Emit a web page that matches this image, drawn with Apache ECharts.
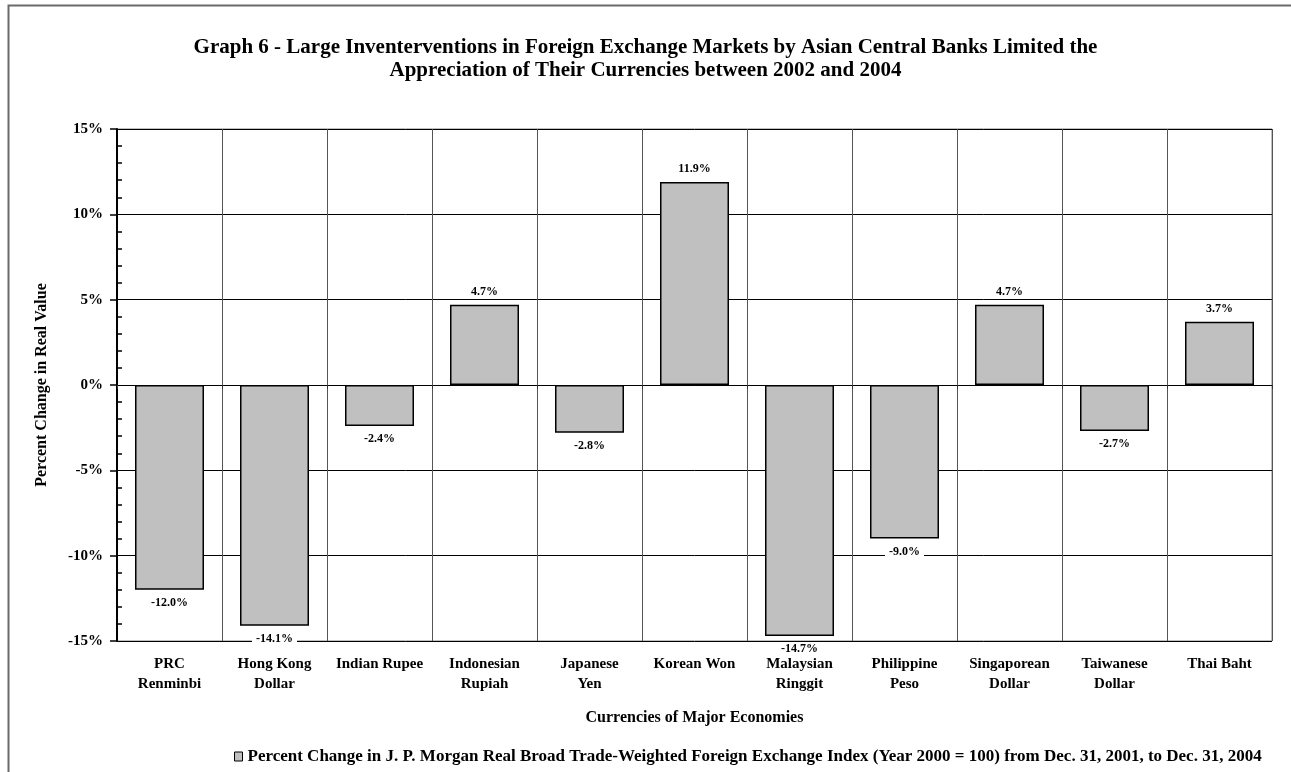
<!DOCTYPE html>
<html>
<head>
<meta charset="utf-8">
<title>Graph 6</title>
<script src="https://cdn.jsdelivr.net/npm/echarts@6/dist/echarts.min.js"></script>
<style>
  html, body { margin: 0; padding: 0; background: #fff; }
  #chart { width: 1291px; height: 772px; }
</style>
</head>
<body>
<div id="chart"></div>
<script>
// Currencies along the horizontal axis
const currencies = [
  'PRC\nRenminbi', 'Hong Kong\nDollar', 'Indian Rupee', 'Indonesian\nRupiah',
  'Japanese\nYen', 'Korean Won', 'Malaysian\nRinggit', 'Philippine\nPeso',
  'Singaporean\nDollar', 'Taiwanese\nDollar', 'Thai Baht'
];

// Percent change in real value, Dec. 31, 2001 to Dec. 31, 2004
const percentChange = [-12.0, -14.1, -2.4, 4.7, -2.8, 11.9, -14.7, -9.0, 4.7, -2.7, 3.7];

// Value axis range and step (percent)
const yMin = -15;
const yMax = 15;
const yStep = 5;

const titleText = 'Graph 6 - Large Inventerventions in Foreign Exchange Markets by Asian Central Banks Limited the\nAppreciation of Their Currencies between 2002 and 2004';
const seriesName = 'Percent Change in J. P. Morgan Real Broad Trade-Weighted Foreign Exchange Index (Year 2000 = 100) from Dec. 31, 2001, to Dec. 31, 2004';

const serif = '"Liberation Serif", "Times New Roman", serif';

const chart = echarts.init(document.getElementById('chart'), null, { renderer: 'canvas' });

const barData = percentChange.map(v => ({
  value: v,
  label: { position: v < 0 ? 'bottom' : 'top' }
}));

chart.setOption({
  backgroundColor: '#fff',
  animation: false,
  graphic: [{
    type: 'rect',
    left: 6, top: 3,
    shape: { width: 1320, height: 800 },
    style: { fill: 'none', stroke: '#6a6a6a', lineWidth: 2 },
    z: -10, silent: true
  }],
  title: {
    text: titleText,
    left: 'center',
    top: 31,
    textStyle: {
      fontFamily: serif, fontWeight: 'bold', fontSize: 21,
      lineHeight: 23, color: '#000'
    }
  },
  legend: {
    left: 229,
    top: 743,
    icon: 'rect',
    itemWidth: 8,
    itemHeight: 9,
    itemGap: 4,
    textStyle: { fontFamily: serif, fontWeight: 'bold', fontSize: 17, color: '#000' },
    itemStyle: { borderColor: '#000', borderWidth: 1 }
  },
  grid: {
    left: 117, right: 19, top: 129, bottom: 131,
    show: true, borderColor: '#808080', borderWidth: 1,
    backgroundColor: 'transparent'
  },
  xAxis: [{
    type: 'category',
    data: currencies,
    position: 'bottom',
    axisLine: { show: false, onZero: false },
    axisTick: { show: false },
    splitLine: { show: true, interval: 0, lineStyle: { color: '#555', width: 1 } },
    axisLabel: {
      interval: 0, margin: 13,
      fontFamily: serif, fontWeight: 'bold', fontSize: 15,
      lineHeight: 20, color: '#000'
    },
    name: 'Currencies of Major Economies',
    nameLocation: 'middle',
    nameGap: 69,
    nameTextStyle: { fontFamily: serif, fontWeight: 'bold', fontSize: 16, color: '#000' }
  }, {
    // short boundary marks along the zero line
    type: 'category',
    data: currencies,
    position: 'bottom',
    axisLine: { show: true, onZero: true, lineStyle: { color: '#000', width: 1 } },
    axisTick: { show: true, inside: false, length: 4, interval: 0, lineStyle: { color: '#333' } },
    axisLabel: { show: false },
    splitLine: { show: false }
  }],
  yAxis: [{
    type: 'value',
    min: yMin, max: yMax, interval: yStep,
    axisLine: { show: true, lineStyle: { color: '#000', width: 2 } },
    axisTick: { show: true, length: 7, lineStyle: { color: '#000', width: 1.5 } },
    axisLabel: {
      margin: 14,
      formatter: '{value}%',
      fontFamily: serif, fontWeight: 'bold', fontSize: 15, color: '#000'
    },
    splitLine: { show: true, lineStyle: { color: '#000', width: 1 } },
    name: 'Percent Change in Real Value',
    nameLocation: 'middle',
    nameRotate: 90,
    nameGap: 67,
    nameTextStyle: { fontFamily: serif, fontWeight: 'bold', fontSize: 16, color: '#000' }
  }, {
    // minor marks every 1% on the inner side of the value axis
    type: 'value',
    position: 'left',
    min: yMin, max: yMax, interval: yStep,
    axisLine: { show: false },
    axisTick: { show: false, inside: true },
    minorTick: { show: true, splitNumber: 5, length: 5, lineStyle: { color: '#000', width: 1.5 } },
    axisLabel: { show: false },
    splitLine: { show: false }
  }],
  series: [{
    name: seriesName,
    type: 'bar',
    xAxisIndex: 0,
    yAxisIndex: 0,
    data: barData,
    barWidth: 69,
    itemStyle: { color: '#c0c0c0', borderColor: '#000', borderWidth: 1.5 },
    label: {
      show: true,
      distance: 6,
      formatter: p => p.value.toFixed(1) + '%',
      fontFamily: serif, fontWeight: 'bold', fontSize: 12, color: '#000',
      backgroundColor: '#fff',
      padding: [1, 4]
    }
  }]
});
</script>
</body>
</html>
